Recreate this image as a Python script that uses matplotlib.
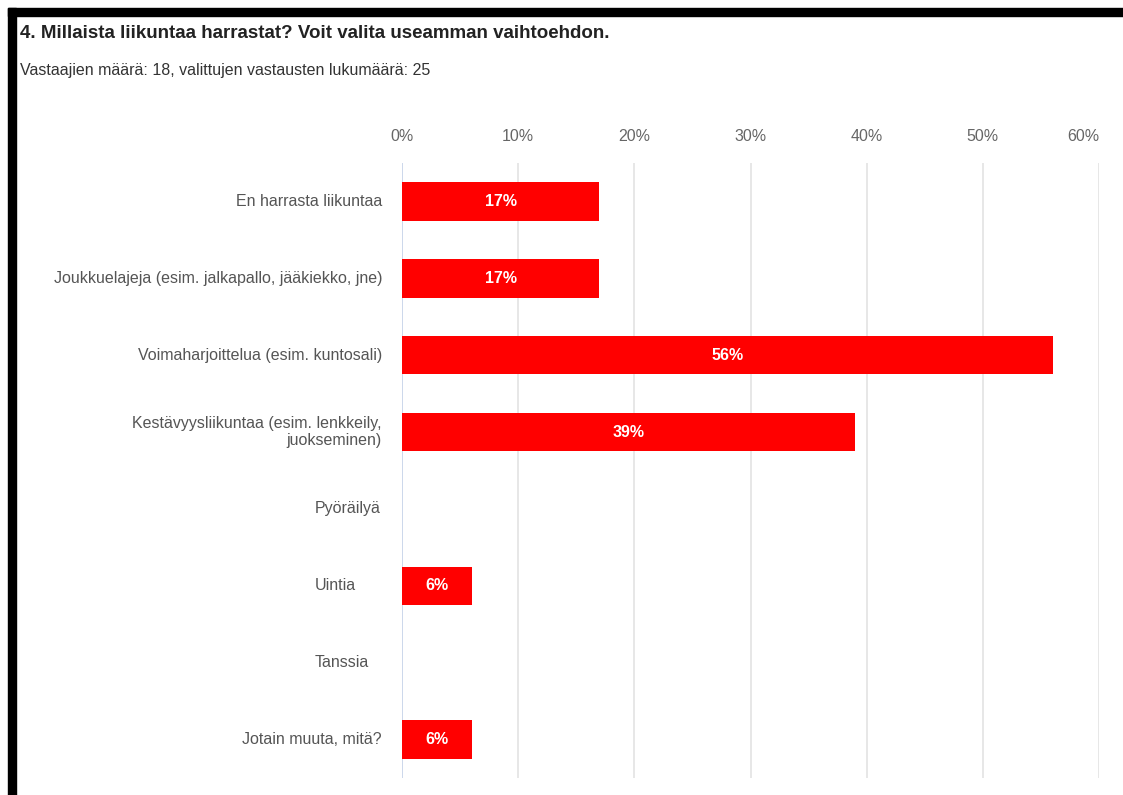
import matplotlib.pyplot as plt
from matplotlib.patches import Rectangle

plt.rcParams['font.family'] = ['Liberation Sans', 'DejaVu Sans']

# Survey question 4: which sports do you do (multiple choice)
categories = [
    'En harrasta liikuntaa',
    'Joukkuelajeja (esim. jalkapallo, jääkiekko, jne)',
    'Voimaharjoittelua (esim. kuntosali)',
    'Kestävyysliikuntaa (esim. lenkkeily,\njuokseminen)',
    'Pyöräilyä',
    'Uintia',
    'Tanssia',
    'Jotain muuta, mitä?',
]
percent = [17, 17, 56, 39, 0, 6, 0, 6]
short_labels = ['Pyöräilyä', 'Uintia', 'Tanssia']
x_ticks = [0, 10, 20, 30, 40, 50, 60]

fig = plt.figure(figsize=(11.23, 7.95), dpi=100)
fig.patch.set_facecolor('white')

# black frame pieces at top and left edge
fig.patches.append(Rectangle((8 / 1123, 1 - 16 / 795), 1, 8 / 795,
                             transform=fig.transFigure, color='black', zorder=0))
fig.patches.append(Rectangle((8 / 1123, 0), 8 / 1123, 1 - 8 / 795,
                             transform=fig.transFigure, color='black', zorder=0))

fig.text(20 / 1123, 1 - 33 / 795, '4. Millaista liikuntaa harrastat? Voit valita useamman vaihtoehdon.',
         fontsize=13.5, fontweight='bold', color='#222222', va='center', ha='left')
fig.text(20 / 1123, 1 - 70 / 795, 'Vastaajien määrä: 18, valittujen vastausten lukumäärä: 25',
         fontsize=11.5, color='#333333', va='center', ha='left')

ax = fig.add_axes([402 / 1123, 1 - 778 / 795, 697 / 1123, 615 / 795])
y = list(range(len(categories)))
ax.barh(y, percent, height=0.5, color='#ff0000', zorder=3)

for yi, p in zip(y, percent):
    if p > 0:
        ax.text(p / 2, yi, f'{p}%', color='white', fontsize=11.5, fontweight='bold',
                ha='center', va='center', zorder=4)

ax.set_xlim(0, 60)
ax.set_ylim(len(categories) - 0.5, -0.5)
ax.set_xticks(x_ticks)
ax.set_xticklabels([f'{t}%' for t in x_ticks])
ax.xaxis.tick_top()
ax.tick_params(axis='x', length=0, pad=14, labelsize=11.5, labelcolor='#666666')
# keep the last tick label inside the plot width
ax.get_xticklabels()[-1].set_horizontalalignment('right')
ax.set_yticks([])
ax.grid(axis='x', color='#e3e3e3', linewidth=1.2, zorder=0)
ax.axvline(0, color='#c8d6ec', linewidth=1.2, zorder=2)
for s in ax.spines.values():
    s.set_visible(False)

# category labels: long ones right aligned, short ones left aligned
for yi, label in zip(y, categories):
    if label in short_labels:
        ax.text(-87 / 697, yi, label, transform=ax.get_yaxis_transform(),
                ha='left', va='center', fontsize=11.5, color='#555555')
    else:
        ax.text(-20 / 697, yi, label, transform=ax.get_yaxis_transform(),
                ha='right', va='center', multialignment='right',
                fontsize=11.5, color='#555555', linespacing=1.2)

fig.savefig('out.png', dpi=100)
